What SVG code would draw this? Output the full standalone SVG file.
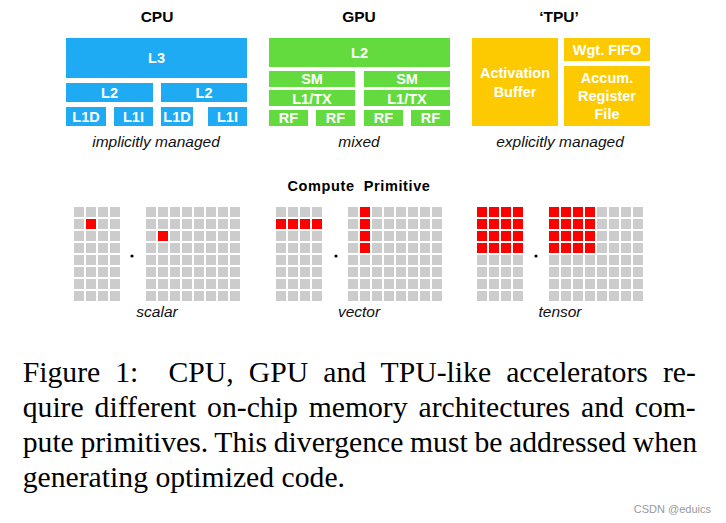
<svg xmlns="http://www.w3.org/2000/svg" width="726" height="523" viewBox="0 0 726 523">
<style>
.t{font-family:"Liberation Sans",Arial,sans-serif;font-weight:bold;font-size:15.5px;fill:#000;text-anchor:middle}
.w{font-family:"Liberation Sans",Arial,sans-serif;font-weight:bold;font-size:14.5px;fill:#fff;text-anchor:middle}
.i{font-family:"Liberation Sans",Arial,sans-serif;font-style:italic;font-size:15.5px;fill:#111;text-anchor:middle}
.cpu{fill:#1eabf4}
.gpu{fill:#63db3f}
.tpu{fill:#fdc900}
.cap{font-family:"Liberation Serif","Times New Roman",serif;font-size:29.7px;fill:#000}
.dot{fill:#000}
</style>
<defs>
<pattern id="g" x="0" y="0" width="12" height="12" patternUnits="userSpaceOnUse"><rect width="10" height="10" fill="#cccccc"/></pattern>
<pattern id="r" x="0" y="0" width="12" height="12" patternUnits="userSpaceOnUse"><rect width="10" height="10" fill="#ff0000"/></pattern>
</defs>
<rect width="726" height="523" fill="#fff"/>

<g id="cpu">
<text class="t" x="157" y="22">CPU</text>
<rect class="cpu" x="66" y="38" width="181" height="40"/><text class="w" x="156.5" y="63">L3</text>
<rect class="cpu" x="66" y="83" width="87" height="19"/><text class="w" x="109.5" y="97.5">L2</text>
<rect class="cpu" x="161" y="83" width="86" height="19"/><text class="w" x="204" y="97.5">L2</text>
<rect class="cpu" x="66" y="107" width="40" height="19"/><text class="w" x="86" y="121.5">L1D</text>
<rect class="cpu" x="114" y="107" width="39" height="19"/><text class="w" x="133.5" y="121.5">L1I</text>
<rect class="cpu" x="161" y="107" width="32" height="19"/><text class="w" x="177" y="121.5">L1D</text>
<rect class="cpu" x="208" y="107" width="39" height="19"/><text class="w" x="227.5" y="121.5">L1I</text>
<text class="i" x="156" y="147">implicitly managed</text>
</g>

<g id="gpu">
<text class="t" x="359" y="22">GPU</text>
<rect class="gpu" x="269" y="38" width="181" height="29"/><text class="w" x="359.5" y="58">L2</text>
<rect class="gpu" x="269" y="71" width="86" height="16"/><text class="w" x="312" y="84">SM</text>
<rect class="gpu" x="364" y="71" width="86" height="16"/><text class="w" x="407" y="84">SM</text>
<rect class="gpu" x="269" y="90" width="86" height="16"/><text class="w" x="312" y="103.5">L1/TX</text>
<rect class="gpu" x="364" y="90" width="86" height="16"/><text class="w" x="407" y="103.5">L1/TX</text>
<rect class="gpu" x="269" y="110" width="39" height="16"/><text class="w" x="288.5" y="123">RF</text>
<rect class="gpu" x="316" y="110" width="39" height="16"/><text class="w" x="335.5" y="123">RF</text>
<rect class="gpu" x="364" y="110" width="39" height="16"/><text class="w" x="383.5" y="123">RF</text>
<rect class="gpu" x="411" y="110" width="39" height="16"/><text class="w" x="430.5" y="123">RF</text>
<text class="i" x="359" y="147">mixed</text>
</g>

<g id="tpu">
<text class="t" x="559" y="22">‘TPU’</text>
<rect class="tpu" x="472" y="38" width="86" height="88"/>
<text class="w" x="515" y="78">Activation</text><text class="w" x="515" y="97">Buffer</text>
<rect class="tpu" x="564" y="38" width="86" height="23"/><text class="w" x="607" y="55">Wgt. FIFO</text>
<rect class="tpu" x="564" y="66" width="86" height="60"/>
<text class="w" x="607" y="83">Accum.</text><text class="w" x="607" y="101">Register</text><text class="w" x="607" y="119">File</text>
<text class="i" x="560" y="147">explicitly managed</text>
</g>

<g id="compute-primitive">
<text class="t" x="359" y="191" style="font-size:14.5px;letter-spacing:0.6px" xml:space="preserve">Compute  Primitive</text>
</g>

<g id="scalar">
<g transform="translate(74,207)"><rect width="46" height="94" fill="url(#g)"/><rect x="12" y="12" width="10" height="10" fill="#f00"/></g>
<circle class="dot" cx="132" cy="256" r="1.6"/>
<g transform="translate(146,207)"><rect width="94" height="94" fill="url(#g)"/><rect x="12" y="24" width="10" height="10" fill="#f00"/></g>
<text class="i" x="157" y="317">scalar</text>
</g>

<g id="vector">
<g transform="translate(276,207)"><rect width="46" height="94" fill="url(#g)"/><rect x="0" y="12" width="46" height="10" fill="url(#r)"/></g>
<circle class="dot" cx="336" cy="256" r="1.6"/>
<g transform="translate(348,207)"><rect width="94" height="94" fill="url(#g)"/><rect x="12" y="0" width="10" height="46" fill="url(#r)"/></g>
<text class="i" x="359" y="317">vector</text>
</g>

<g id="tensor">
<g transform="translate(477,207)"><rect width="46" height="94" fill="url(#g)"/><rect width="46" height="46" fill="url(#r)"/></g>
<circle class="dot" cx="536" cy="256" r="1.6"/>
<g transform="translate(549,207)"><rect width="94" height="94" fill="url(#g)"/><rect width="46" height="46" fill="url(#r)"/></g>
<text class="i" x="560" y="317">tensor</text>
</g>

<g id="connectors"/>

<g id="caption">
<text class="cap" x="22.7" y="381.5" style="word-spacing:7.65px" xml:space="preserve">Figure 1:  CPU, GPU and TPU-like accelerators re-</text>
<text class="cap" x="22.7" y="416.5" style="word-spacing:3.45px">quire different on-chip memory architectures and com-</text>
<text class="cap" x="22.7" y="451.5" style="word-spacing:-0.8px">pute primitives. This divergence must be addressed when</text>
<text class="cap" x="22.7" y="486.5">generating optimized code.</text>
</g>

<text x="711" y="513" style="font-family:'Liberation Sans',Arial,sans-serif;font-size:11px;fill:#999;text-anchor:end">CSDN @eduics</text>
</svg>
